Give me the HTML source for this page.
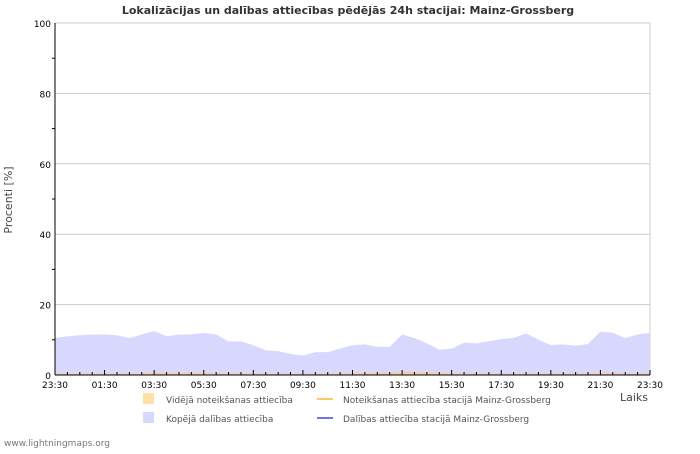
<!DOCTYPE html>
<html><head><meta charset="utf-8"><style>
body{margin:0;background:#fff;font-family:"DejaVu Sans","Liberation Sans",sans-serif;}
svg text{font-family:"DejaVu Sans","Liberation Sans",sans-serif;}
</style></head><body>
<svg id="c" width="700" height="450" viewBox="0 0 700 450" xmlns="http://www.w3.org/2000/svg">
<rect width="700" height="450" fill="#fff"/>
<text x="348" y="14" text-anchor="middle" font-size="11" font-weight="bold" fill="#333">Lokalizācijas un dalības attiecības pēdējās 24h stacijai: Mainz-Grossberg</text>
<g id="grid"></g>
<g id="series"></g>
<g id="axes"></g>
<text x="12" y="200" transform="rotate(-90 12 200)" text-anchor="middle" font-size="11" fill="#444">Procenti  [%]</text>
<text x="634" y="401" text-anchor="middle" font-size="11" fill="#444">Laiks</text>
<g font-size="9" fill="#555">
<rect x="143" y="393" width="11" height="11" fill="#ffe0a8"/>
<text x="166" y="403">Vidējā noteikšanas attiecība</text>
<line x1="317" y1="399" x2="333" y2="399" stroke="#ffc860" stroke-width="2"/>
<text x="343" y="403">Noteikšanas attiecība stacijā Mainz-Grossberg</text>
<rect x="143" y="412" width="11" height="11" fill="#d8d8ff"/>
<text x="166" y="422">Kopējā dalības attiecība</text>
<line x1="317" y1="418" x2="333" y2="418" stroke="#7070f0" stroke-width="2"/>
<text x="343" y="422">Dalības attiecība stacijā Mainz-Grossberg</text>
</g>
<text x="4" y="446" font-size="9" fill="#777">www.lightningmaps.org</text>
</svg>
<script>
const yTicks=[0,20,40,60,80,100];
const xLabels=["23:30","01:30","03:30","05:30","07:30","09:30","11:30","13:30","15:30","17:30","19:30","21:30","23:30"];
const totalParticipation=[10.5,11,11.3,11.5,11.5,11.3,10.5,11.5,12.5,11,11.5,11.5,12,11.5,9.5,9.5,8.5,7,6.8,6,5.5,6.5,6.5,7.5,8.5,8.7,8,8,11.5,10.5,9,7.2,7.5,9.2,9,9.6,10.2,10.5,11.8,10,8.5,8.7,8.3,8.8,12.3,12,10.5,11.5,12];
const avgDetection=[0.5,0.5,0.5,0.5,0.5,0.5,0.5,0.5,0.7,0.6,0.6,0.7,0.6,0.5,0.5,0.6,0.5,0.4,0.4,0.4,0.4,0.4,0.5,0.5,0.6,0.6,0.6,0.7,1,1,0.8,0.6,0.5,0.5,0.5,0.5,0.4,0.4,0.5,0.5,0.4,0.5,0.5,0.5,0.6,0.6,0.5,0.5,0.5];
const X0=55,X1=650,Y0=375,Y1=23;
const NS="http://www.w3.org/2000/svg";
const xs=i=>X0+(X1-X0)*i/(totalParticipation.length-1);
const ys=v=>Y0-(Y0-Y1)*v/100;
function mk(t,a,p){const e=document.createElementNS(NS,t);for(const k in a)e.setAttribute(k,a[k]);p.appendChild(e);return e;}
const grid=document.getElementById('grid'),axes=document.getElementById('axes'),ser=document.getElementById('series');
yTicks.forEach(v=>{
 const l=mk('line',{x1:X0,x2:X1,y1:ys(v),y2:ys(v),stroke:'#ccc','stroke-width':1},grid);
 
 
 const t=mk('text',{x:X0-4,y:ys(v)+4,'text-anchor':'end','font-size':9,fill:'#000'},axes);
 t.textContent=v;
 
 
});
for(let v=10;v<100;v+=20){const m=mk('line',{x1:X0-3,x2:X0,y1:ys(v),y2:ys(v),stroke:'#000'},axes);}
const r=mk('line',{x1:X1,x2:X1,y1:Y1,y2:Y0,stroke:'#ccc'},grid);


function area(arr,fill,name){
 let d='M'+xs(0)+','+Y0;arr.forEach((v,i)=>d+=' L'+xs(i)+','+ys(v));d+=' L'+xs(arr.length-1)+','+Y0+'Z';
 const p=mk('path',{d:d,fill:fill},ser);
 
 
}
area(totalParticipation,'#d8d8ff','area-total-participation');
area(avgDetection,'#f0d0b0','area-avg-detection');
const ax=mk('line',{x1:X0,x2:X0,y1:Y1,y2:Y0,stroke:'#000'},axes);


const bx=mk('line',{x1:X0,x2:X1,y1:Y0,y2:Y0,stroke:'#000'},axes);


for(let i=0;i<=48;i++){const x=X0+(X1-X0)*i/48;const big=i%4==0;const t=mk('line',{x1:x,x2:x,y1:Y0,y2:Y0-(big?5:3),stroke:'#000'},axes);}
xLabels.forEach((s,i)=>{
 const t=mk('text',{x:X0+(X1-X0)*i/(xLabels.length-1),y:Y0+13,'text-anchor':'middle','font-size':9,fill:'#000'},axes);
 t.textContent=s;
 
 
});
</script>
</body></html>
